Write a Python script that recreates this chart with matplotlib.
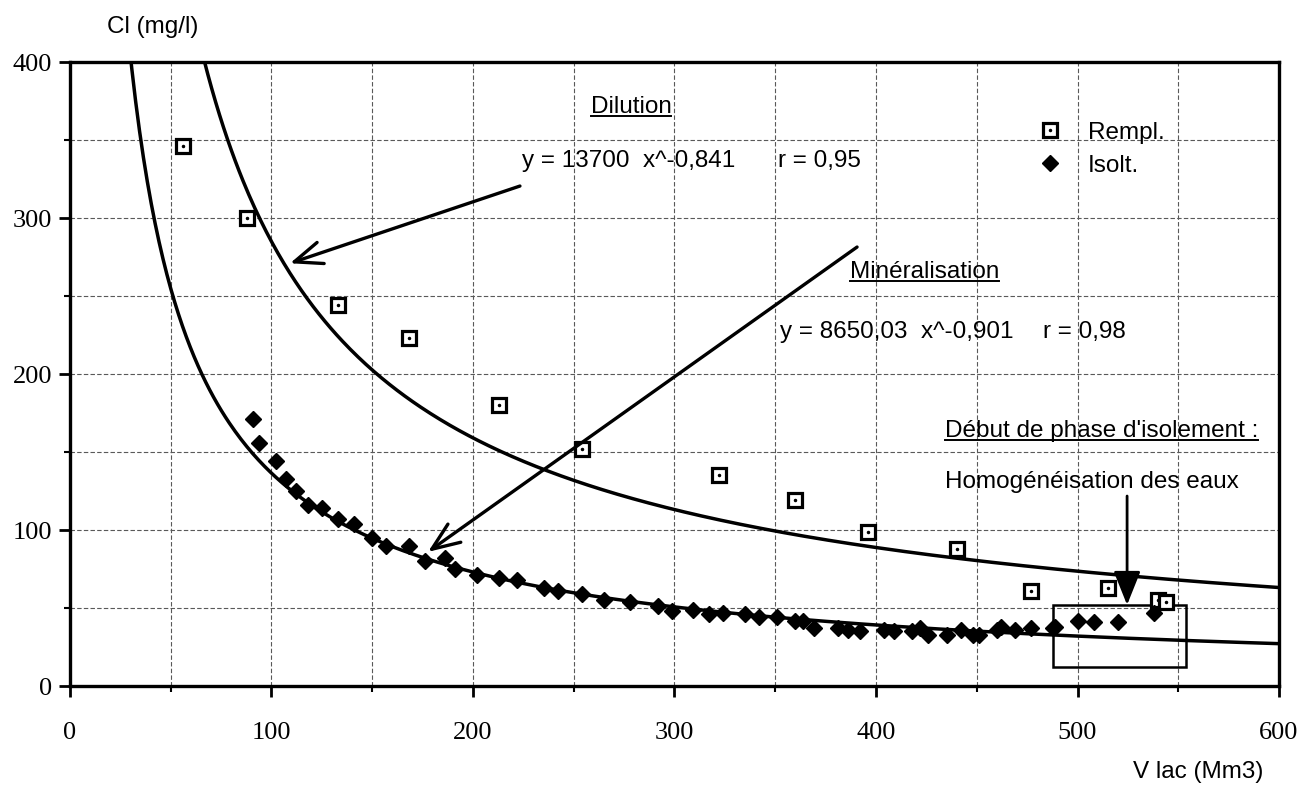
import numpy as np
import matplotlib
matplotlib.use('Agg')
import matplotlib.pyplot as plt
from matplotlib.patches import Rectangle
from matplotlib.legend_handler import HandlerTuple

# Rempl. (remplissage) points
rempl_v = [56, 88, 133, 168, 213, 254, 322, 360, 396, 440, 477, 515, 540, 544]
rempl_cl = [346, 300, 244, 223, 180, 152, 135, 119, 99, 88, 61, 63, 55, 54]

# Isolt. (isolement) points
isolt_v = [91, 94, 102, 107, 112, 118, 125, 133, 141, 150, 157, 168, 176, 186,
           191, 202, 213, 222, 235, 242, 254, 265, 278, 292, 299, 309, 317, 324,
           335, 342, 351, 360, 364, 369, 381, 386, 392, 404, 409, 418, 422, 426,
           435, 442, 448, 451, 460, 462, 469, 477, 488, 489, 500, 508, 520, 538]
isolt_cl = [171, 156, 144, 133, 125, 116, 114, 107, 104, 95, 90, 90, 80, 82,
            75, 71, 69, 68, 63, 61, 59, 55, 54, 51, 48, 49, 46, 47,
            46, 44, 44, 42, 42, 37, 37, 36, 35, 36, 35, 35, 37, 33,
            33, 36, 33, 33, 36, 38, 36, 37, 37, 38, 42, 41, 41, 47]

# power fits shown on the chart
dil_a, dil_b = 13700, -0.841
min_a, min_b = 8650.03, -0.901

sans = 'Liberation Sans'
serif = 'Liberation Serif'
fs = 17.5

fig = plt.figure(figsize=(13.03, 7.87), dpi=100)
ax = fig.add_axes([0.0537, 0.1283, 0.9279, 0.7929])

v_fit = np.linspace(20, 600, 600)
ax.plot(v_fit, dil_a * v_fit ** dil_b, color='black', lw=2.5, zorder=3)
ax.plot(v_fit, min_a * v_fit ** min_b, color='black', lw=2.5, zorder=3)

sq, = ax.plot(rempl_v, rempl_cl, 's', ms=10, mfc='white', mec='black', mew=2.3,
              ls='none', zorder=5)
dot, = ax.plot(rempl_v, rempl_cl, '.', ms=3, color='black', ls='none', zorder=6)
dia, = ax.plot(isolt_v, isolt_cl, 'D', ms=8.5, color='black', ls='none', zorder=5)

ax.set_xlim(0, 600)
ax.set_ylim(0, 400)
ax.set_xticks(np.arange(0, 601, 100))
ax.set_yticks(np.arange(0, 401, 100))
ax.set_xticks(np.arange(50, 600, 100), minor=True)
ax.set_yticks(np.arange(50, 400, 100), minor=True)
ax.grid(True, which='both', color='0.35', lw=0.8, ls=(0, (4, 2)))
ax.set_axisbelow(True)
ax.tick_params(which='major', direction='out', length=8, width=2,
               labelsize=19, labelfontfamily=serif)
ax.tick_params(axis='x', which='major', pad=18)
ax.tick_params(axis='y', which='major', pad=5)
ax.tick_params(which='minor', direction='out', length=4, width=1.5)
for s in ax.spines.values():
    s.set_linewidth(2.4)

fig.text(107 / 1303, 1 - 33 / 787, 'Cl (mg/l)', family=sans, fontsize=fs,
         ha='left', va='baseline')
fig.text(1263 / 1303, 1 - 778 / 787, 'V lac (Mm3)', family=sans, fontsize=fs,
         ha='right', va='baseline')

# annotations
under = []
t = ax.text(278.4, 367.3, 'Dilution', family=sans, fontsize=fs, ha='center',
            va='baseline')
under.append(t)
ax.text(224.3, 333, 'y = 13700  x^-0,841', family=sans, fontsize=fs,
        ha='left', va='baseline')
ax.text(351.4, 333, 'r = 0,95', family=sans, fontsize=fs, ha='left', va='baseline')
t = ax.text(387, 261.5, 'Minéralisation', family=sans, fontsize=fs, ha='left',
            va='baseline')
under.append(t)
ax.text(352.4, 223, 'y = 8650,03  x^-0,901', family=sans, fontsize=fs,
        ha='left', va='baseline')
ax.text(482.9, 223, 'r = 0,98', family=sans, fontsize=fs, ha='left', va='baseline')
t = ax.text(434.2, 159.6, "Début de phase d'isolement :", family=sans,
            fontsize=fs, ha='left', va='baseline')
under.append(t)
ax.text(434.2, 127, 'Homogénéisation des eaux', family=sans, fontsize=fs,
        ha='left', va='baseline')

ax.annotate('', xy=(109.2, 271), xytext=(223.3, 320.5),
            arrowprops=dict(arrowstyle='->,head_length=0.5,head_width=0.2',
                            lw=2.4, color='black', mutation_scale=40,
                            shrinkA=0, shrinkB=0), zorder=7)
ax.annotate('', xy=(177.7, 86), xytext=(390.6, 281.4),
            arrowprops=dict(arrowstyle='->,head_length=0.5,head_width=0.2',
                            lw=2.4, color='black', mutation_scale=40,
                            shrinkA=0, shrinkB=0), zorder=7)
ax.annotate('', xy=(524.6, 52), xytext=(524.6, 121.8),
            arrowprops=dict(arrowstyle='-|>,head_length=0.8,head_width=0.32',
                            lw=2, color='black', fc='black', mutation_scale=26,
                            shrinkA=0, shrinkB=0), zorder=7)

ax.add_patch(Rectangle((488, 12), 66, 40, fill=False, ec='black', lw=1.8,
                       zorder=4))

ax.legend([(sq, dot), dia], ['Rempl.', 'Isolt.'],
          handler_map={tuple: HandlerTuple(ndivide=1)},
          loc='upper left', bbox_to_anchor=(0.8007, 0.904), frameon=False,
          borderpad=0, borderaxespad=0, handlelength=1, handletextpad=1.05,
          labelspacing=0.45, prop={'family': sans, 'size': fs})

# underline the title texts
fig.canvas.draw()
r = fig.canvas.get_renderer()
inv = ax.transData.inverted()
for t in under:
    bb = t.get_window_extent(renderer=r)
    x0, _ = inv.transform((bb.x0, 0))
    x1, _ = inv.transform((bb.x1, 0))
    _, yb = t.get_position()
    ax.plot([x0, x1], [yb - 1.6, yb - 1.6], color='black', lw=1.4, zorder=7)

fig.savefig('out.png', dpi=100)
